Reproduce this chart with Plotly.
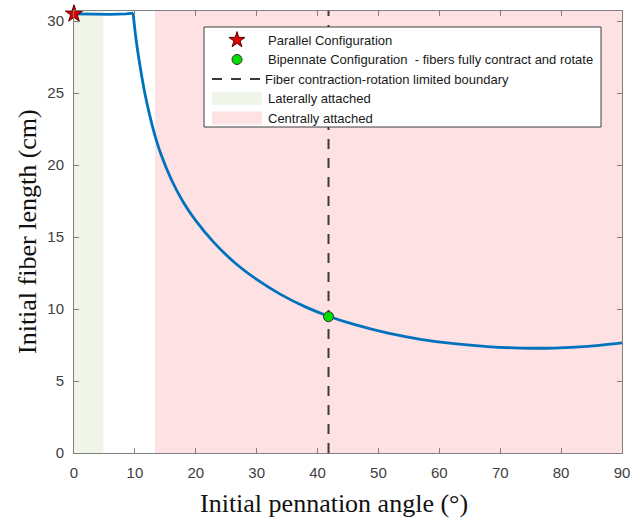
import plotly.graph_objects as go

# ---- data ----
pennation_angle = [0, 3, 6, 8.5, 9.7, 10.2, 10.8, 11.6, 12.4, 13.25, 14.3, 16.0, 18.0, 20.0, 23.0, 26.7,
                   30.0, 34.0, 38.0, 41.8, 46.0, 51.4, 56.9, 62.4, 67.9, 73.4, 78.9, 84.4, 90]
fiber_length = [30.5, 30.47, 30.46, 30.5, 30.56, 28.7, 27.0, 25.06, 23.52, 22.12, 20.73, 18.98, 17.38, 16.14,
                14.61, 13.11, 12.06, 11.0, 10.15, 9.50, 8.93, 8.34, 7.90, 7.59, 7.39, 7.29, 7.29, 7.41, 7.65]
parallel_point = (0, 30.5)
bipennate_point = (41.8, 9.47)
boundary_angle = 41.8
lateral_region = (0, 4.8)
central_region = (13.3, 90)
x_ticks = [0, 10, 20, 30, 40, 50, 60, 70, 80, 90]
y_ticks = [0, 5, 10, 15, 20, 25, 30]
legend_labels = ["Parallel Configuration",
                 "Bipennate Configuration  - fibers fully contract and rotate",
                 "Fiber contraction-rotation limited boundary",
                 "Laterally attached",
                 "Centrally attached"]

BLUE = "#0072BD"
GREEN_FILL = "#EFF5E9"
PINK_FILL = "#FDE1E3"
AX = "#808080"
TXT = "#404040"

# plot-area geometry in pixels
W, H = 644, 522
L, R, T, B = 74, 22, 11, 69
X0, X1 = L, W - R
Y0, Y1 = T, H - B

fig = go.Figure()

# main curve: flat plateau (linear) + decreasing branch (smooth), split at the peak
peak = fiber_length.index(max(fiber_length))
fig.add_trace(go.Scatter(x=pennation_angle[:peak + 1], y=fiber_length[:peak + 1], mode="lines",
                         line=dict(color=BLUE, width=2.8), showlegend=False, hoverinfo="skip"))
fig.add_trace(go.Scatter(x=pennation_angle[peak:], y=fiber_length[peak:], mode="lines",
                         line=dict(color=BLUE, width=2.8, shape="spline", smoothing=0.8),
                         showlegend=False, hoverinfo="skip"))
# points
fig.add_trace(go.Scatter(x=[parallel_point[0]], y=[parallel_point[1]], mode="markers",
                         marker=dict(symbol="star", size=13, color="#E00000",
                                     line=dict(color="#5a0000", width=1)),
                         cliponaxis=False, showlegend=False))
fig.add_trace(go.Scatter(x=[bipennate_point[0]], y=[bipennate_point[1]], mode="markers",
                         marker=dict(symbol="circle", size=10, color="#00E000",
                                     line=dict(color="#303030", width=1)),
                         cliponaxis=False, showlegend=False))

shapes = []
# shaded regions
shapes.append(dict(type="rect", xref="x", yref="paper", x0=lateral_region[0], x1=lateral_region[1],
                   y0=0, y1=1, fillcolor=GREEN_FILL, line=dict(width=0), layer="below"))
shapes.append(dict(type="rect", xref="x", yref="paper", x0=central_region[0], x1=central_region[1],
                   y0=0, y1=1, fillcolor=PINK_FILL, line=dict(width=0), layer="below"))
# boundary line
shapes.append(dict(type="line", xref="x", yref="paper", x0=boundary_angle, x1=boundary_angle,
                   y0=0, y1=1, line=dict(color="#3a3a3a", width=2, dash="10px,9px"), layer="below"))

# ---- manual legend (overlay axes in pixel units, drawn as traces above main traces) ----
LX0, LX1, LY0, LY1 = 204, 601, 27, 127
row_y = [40, 59.5, 79, 98.5, 118]
sw0, sw1 = 212, 262


def box(x0, x1, y0, y1, fill, line_color, lw):
    fig.add_trace(go.Scatter(x=[x0, x1, x1, x0, x0], y=[y0, y0, y1, y1, y0], xaxis="x2", yaxis="y2",
                             mode="lines", fill="toself", fillcolor=fill,
                             line=dict(color=line_color, width=lw),
                             showlegend=False, hoverinfo="skip"))


box(LX0, LX1, LY0, LY1, "white", "#404040", 1)
box(sw0, sw1, row_y[3] - 6.5, row_y[3] + 6.5, GREEN_FILL, "rgba(0,0,0,0)", 0)
box(sw0, sw1, row_y[4] - 6.5, row_y[4] + 6.5, PINK_FILL, "rgba(0,0,0,0)", 0)
fig.add_trace(go.Scatter(x=[sw0, sw1], y=[row_y[2], row_y[2]], xaxis="x2", yaxis="y2", mode="lines",
                         line=dict(color="#3a3a3a", width=2, dash="10px,9px"),
                         showlegend=False, hoverinfo="skip"))
fig.add_trace(go.Scatter(x=[237], y=[row_y[0]], xaxis="x2", yaxis="y2", mode="markers",
                         marker=dict(symbol="star", size=12, color="#E00000",
                                     line=dict(color="#5a0000", width=1)),
                         showlegend=False, hoverinfo="skip"))
fig.add_trace(go.Scatter(x=[237], y=[row_y[1]], xaxis="x2", yaxis="y2", mode="markers",
                         marker=dict(symbol="circle", size=10, color="#00E000",
                                     line=dict(color="#303030", width=1)),
                         showlegend=False, hoverinfo="skip"))

annotations = []
for i, lab in enumerate(legend_labels):
    annotations.append(dict(xref="x2", yref="y2", x=266 if i != 2 else 263, y=row_y[i], text=lab,
                            showarrow=False, xanchor="left", yanchor="middle",
                            font=dict(family="Liberation Sans, Arial", size=13, color="#1a1a1a")))

# axis titles
annotations.append(dict(xref="paper", yref="paper", x=(334 - X0) / (X1 - X0), y=(Y1 - 503) / (Y1 - Y0),
                        text="Initial pennation angle (°)", showarrow=False,
                        xanchor="center", yanchor="middle",
                        font=dict(family="Liberation Serif, Times New Roman", size=26, color="#111111")))
annotations.append(dict(xref="paper", yref="paper", x=(27 - X0) / (X1 - X0), y=0.5,
                        text="Initial fiber length (cm)", showarrow=False, textangle=-90,
                        xanchor="center", yanchor="middle",
                        font=dict(family="Liberation Serif, Times New Roman", size=26, color="#111111")))

axis_common = dict(showgrid=False, zeroline=False, showline=True, linecolor=AX, linewidth=1,
                   mirror="ticks", ticks="inside", ticklen=5, tickcolor=AX, tickwidth=1,
                   tickfont=dict(family="Liberation Sans, Arial", size=15, color=TXT))

fig.update_layout(
    width=W, height=H,
    margin=dict(l=L, r=R, t=T, b=B, pad=0),
    paper_bgcolor="white", plot_bgcolor="white",
    showlegend=False,
    xaxis=dict(range=[0, 90], tickvals=x_ticks, ticklabelstandoff=6, **axis_common),
    yaxis=dict(range=[0, 30.7], tickvals=y_ticks, ticklabelstandoff=6, **axis_common),
    xaxis2=dict(range=[X0, X1], overlaying="x", visible=False, fixedrange=True),
    yaxis2=dict(range=[Y1, Y0], overlaying="y", visible=False, fixedrange=True),
    shapes=shapes,
    annotations=annotations,
)

fig.write_html("out.html")
